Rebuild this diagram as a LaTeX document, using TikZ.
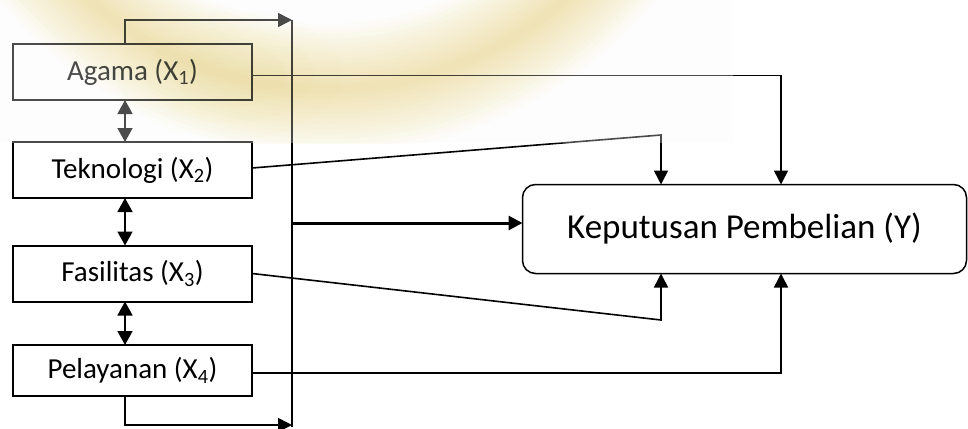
\documentclass[tikz,border=0pt]{standalone}
\usepackage{fontspec}
\setmainfont{Carlito}
\usetikzlibrary{arrows.meta}
\definecolor{wmy}{RGB}{254,232,160}
\definecolor{ovl}{RGB}{250,250,250}
\tikzset{
  varbox/.style={draw=black, line width=2pt, minimum width=239pt, minimum height=56pt,
    inner sep=0pt, outer sep=0pt, font=\fontsize{29}{34}\selectfont, text=black},
  ybox/.style={draw=black, line width=1.5pt, rounded corners=13pt, minimum width=444pt,
    minimum height=89pt, inner sep=0pt, outer sep=0pt, font=\fontsize{35}{40}\selectfont},
  conn/.style={line width=1.6pt},
  tip/.style={-{Triangle[length=14pt,width=14pt]}},
  dbl/.style={{Triangle[length=14pt,width=15pt]}-{Triangle[length=14pt,width=15pt]}, line width=1.6pt},
  thick arrow/.style={line width=3pt, -{Triangle[length=14pt,width=14pt]}},
}
\begin{document}
\begin{tikzpicture}[x=1pt,y=-1pt]
\useasboundingbox (0,0) rectangle (968,428);
\fill[white] (0,0) rectangle (968,428);

% variable boxes
\node[varbox] (a) at (132.5,72) {Agama (X\textsubscript{1})};
\node[varbox] (t) at (132.5,170) {Teknologi (X\textsubscript{2})};
\node[varbox] (f) at (132.5,273.5) {Fasilitas (X\textsubscript{3})};
\node[varbox, minimum height=51pt] (p) at (132.5,370.5) {Pelayanan (X\textsubscript{4})};

% dependent variable
\node[ybox] (y) at (744.5,229) {\raisebox{5pt}{Keputusan Pembelian (Y)}\hspace{18pt}};

% helper coordinates
\coordinate (bt) at (292,20);
\coordinate (bb) at (292,425);
\coordinate (bm) at (292,223);
\coordinate (tk) at (661,135);
\coordinate (fk) at (661,320);

% bus line
\draw[conn] (bt) -- ([yshift=-2pt]bb);
\draw[conn,tip] ([xshift=-7.5pt]a.north) |- (bt);
\draw[conn,tip] ([xshift=-7.5pt]p.south) |- (bb);
\draw[thick arrow] (bm) -- ([yshift=6pt]y.west);

% double arrows between variables
\draw[dbl] ([xshift=-7.5pt]a.south) -- ([xshift=-7.5pt]t.north);
\draw[dbl] ([xshift=-7.5pt]t.south) -- ([xshift=-7.5pt]f.north);
\draw[dbl] ([xshift=-7.5pt]f.south) -- ([xshift=-7.5pt]p.north);

% partial effects
\draw[conn,tip] ([yshift=-3.5pt]a.east) -| ([xshift=36.5pt]y.north);
\draw[conn,tip] ([yshift=2pt]t.east) -- (tk) -- ([xshift=-83.5pt]y.north);
\draw[conn,tip] (f.east) -- (fk) -- ([xshift=-83.5pt]y.south);
\draw[conn,tip] ([yshift=-2.5pt]p.east) -| ([xshift=36.5pt]y.south);

% watermark overlay
\begin{scope}
  \clip (0,0) rectangle (733,143);
  \fill[ovl, opacity=0.3] (0,0) rectangle (733,143);
\end{scope}
\begin{scope}[blend mode=multiply]
  \clip (0,0) rectangle (733,143);
  \foreach \w in {130,120,...,10}
    \draw[draw=wmy, line width=\w pt, opacity=0.06] (327,-272) circle[radius=361pt];
  \foreach \r in {80,60,40}
    \fill[wmy, opacity=0.04] (230,75) ellipse[x radius=\r pt*1.4, y radius=\r pt*0.8];
\end{scope}
\end{tikzpicture}
\end{document}
